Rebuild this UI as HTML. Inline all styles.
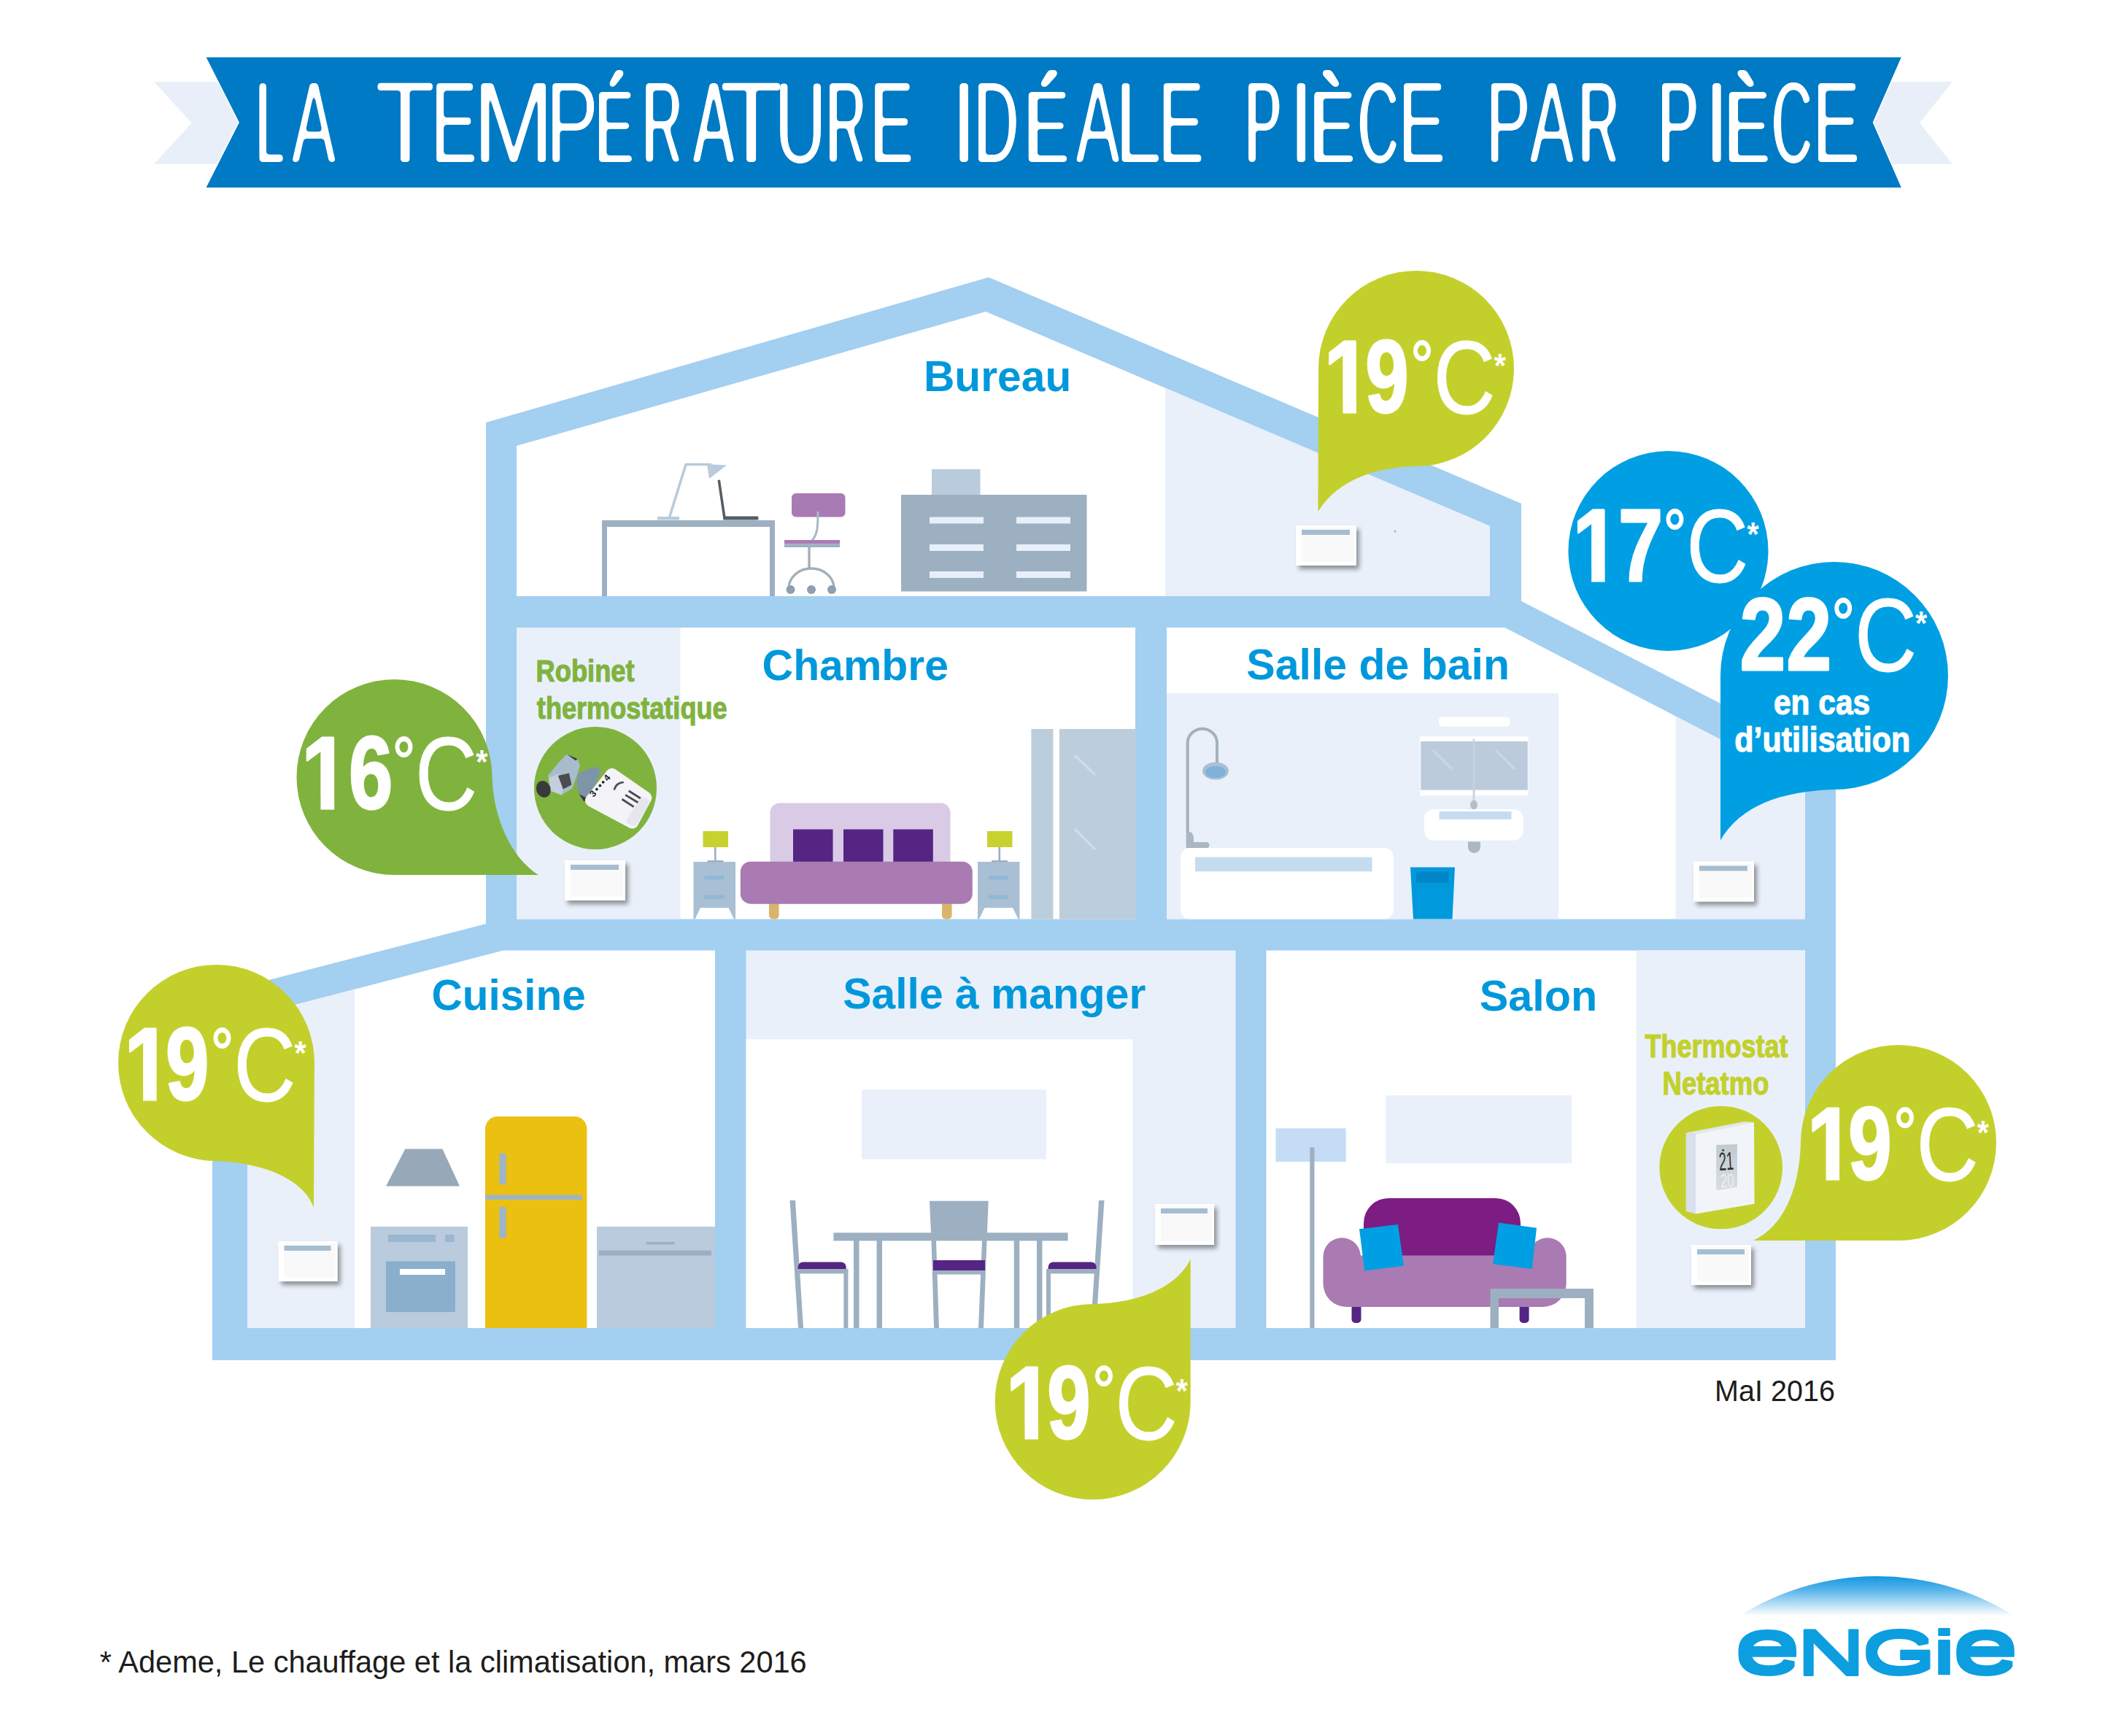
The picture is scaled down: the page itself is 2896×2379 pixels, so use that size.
<!DOCTYPE html>
<html lang="fr"><head><meta charset="utf-8"><title>LA TEMPÉRATURE IDÉALE PIÈCE PAR PIÈCE</title>
<style>html,body{margin:0;padding:0;background:#fff}svg{display:block}text{font-family:"Liberation Sans",Arial,Helvetica,sans-serif}</style>
</head><body>
<svg width="2896" height="2379" viewBox="0 0 2896 2379">
<defs>
<filter id="sh" x="-20%" y="-20%" width="150%" height="160%"><feGaussianBlur in="SourceAlpha" stdDeviation="3.4"/><feOffset dx="3.5" dy="5"/><feComponentTransfer><feFuncA type="linear" slope="0.4"/></feComponentTransfer><feMerge><feMergeNode/><feMergeNode in="SourceGraphic"/></feMerge></filter>
<filter id="er1" x="-15%" y="-10%" width="130%" height="120%"><feMorphology operator="erode" radius="0 1"/><feGaussianBlur stdDeviation="2.2"/><feComponentTransfer><feFuncA type="linear" slope="7" intercept="-3"/></feComponentTransfer></filter>
<filter id="er2" x="-15%" y="-10%" width="130%" height="120%"><feMorphology operator="erode" radius="0 2"/><feGaussianBlur stdDeviation="2.2"/><feComponentTransfer><feFuncA type="linear" slope="7" intercept="-3"/></feComponentTransfer></filter>
<filter id="er3" x="-15%" y="-10%" width="130%" height="120%"><feMorphology operator="erode" radius="0 3"/><feGaussianBlur stdDeviation="2.2"/><feComponentTransfer><feFuncA type="linear" slope="7" intercept="-3"/></feComponentTransfer></filter>
<filter id="er4" x="-15%" y="-10%" width="130%" height="120%"><feMorphology operator="erode" radius="0 4"/><feGaussianBlur stdDeviation="2.2"/><feComponentTransfer><feFuncA type="linear" slope="7" intercept="-3"/></feComponentTransfer></filter>
<filter id="er5" x="-15%" y="-10%" width="130%" height="120%"><feMorphology operator="erode" radius="0 5"/><feGaussianBlur stdDeviation="2.2"/><feComponentTransfer><feFuncA type="linear" slope="7" intercept="-3"/></feComponentTransfer></filter>
<filter id="erA" x="-15%" y="-10%" width="130%" height="120%"><feMorphology in="SourceGraphic" operator="erode" radius="0 4" result="e"/><feOffset in="SourceGraphic" dx="0" dy="0" x="0" y="70" width="2896" height="51" result="acc"/><feMerge><feMergeNode in="e"/><feMergeNode in="acc"/></feMerge><feGaussianBlur stdDeviation="2.2"/><feComponentTransfer><feFuncA type="linear" slope="7" intercept="-3"/></feComponentTransfer></filter>
<filter id="dl3" x="-10%" y="-20%" width="120%" height="140%"><feMorphology operator="dilate" radius="0 3"/></filter>
<filter id="dl1" x="-10%" y="-20%" width="120%" height="140%"><feMorphology operator="dilate" radius="0 1"/></filter>
<linearGradient id="lcd" x1="0" y1="0" x2="0" y2="1"><stop offset="0" stop-color="#c2cad1"/><stop offset="1" stop-color="#d8dde2"/></linearGradient>
<linearGradient id="eg" x1="0" y1="0" x2="0" y2="1"><stop offset="0" stop-color="#1397e0"/><stop offset="0.35" stop-color="#58b4ea"/><stop offset="1" stop-color="#ffffff"/></linearGradient>
</defs>
<rect width="2896" height="2379" fill="#fff"/>

<g id="banner" role="img" aria-label="LA TEMPÉRATURE IDÉALE PIÈCE PAR PIÈCE">
<polygon points="211,112 2676,112 2631,168.5 2676,225 211,225 262.5,168.5" fill="#e9eff8"/>
<polygon points="281.3,77.6 2607,77.6 2567.6,167.7 2607,257.8 281.3,257.8 327,167.7" fill="#007ac4" stroke="#fff" stroke-width="1.6"/>
<g><g filter="url(#er5)"><text transform="translate(351.66,223.4) scale(0.4135,1)" font-size="159" fill="#fff" stroke="#fff" stroke-width="8" stroke-linejoin="round">L</text></g><g filter="url(#er2)"><text transform="translate(399.99,223.4) scale(0.5678,1)" font-size="159" fill="#fff" stroke="#fff" stroke-width="2" stroke-linejoin="round">A</text></g></g>
<g><g filter="url(#er1)"><text transform="translate(514.60,223.4) scale(0.8398,1)" font-size="159" fill="#fff">T</text></g><g filter="url(#er2)"><text transform="translate(591.34,223.4) scale(0.5863,1)" font-size="159" fill="#fff" stroke="#fff" stroke-width="2" stroke-linejoin="round">E</text></g><g filter="url(#er1)"><text transform="translate(648.52,223.4) scale(0.8339,1)" font-size="159" fill="#fff">M</text></g><g filter="url(#er1)"><text transform="translate(748.61,223.4) scale(0.6736,1)" font-size="159" fill="#fff">P</text></g><g filter="url(#erA)"><text transform="translate(816.30,223.4) scale(0.5389,1)" font-size="143" fill="#fff" stroke="#fff" stroke-width="6" stroke-linejoin="round">É</text></g><g filter="url(#er4)"><text transform="translate(880.43,223.4) scale(0.4751,1)" font-size="159" fill="#fff" stroke="#fff" stroke-width="6" stroke-linejoin="round">R</text></g><g filter="url(#er3)"><text transform="translate(949.70,223.4) scale(0.5328,1)" font-size="159" fill="#fff" stroke="#fff" stroke-width="4" stroke-linejoin="round">A</text></g><g filter="url(#er1)"><text transform="translate(986.74,223.4) scale(0.8843,1)" font-size="159" fill="#fff">T</text></g><g filter="url(#er2)"><text transform="translate(1062.61,223.4) scale(0.6024,1)" font-size="159" fill="#fff" stroke="#fff" stroke-width="2" stroke-linejoin="round">U</text></g><g filter="url(#er4)"><text transform="translate(1132.23,223.4) scale(0.4751,1)" font-size="159" fill="#fff" stroke="#fff" stroke-width="6" stroke-linejoin="round">R</text></g><g filter="url(#er3)"><text transform="translate(1193.19,223.4) scale(0.5445,1)" font-size="159" fill="#fff" stroke="#fff" stroke-width="4" stroke-linejoin="round">E</text></g></g>
<g><g filter="url(#er1)"><text transform="translate(1304.02,223.4) scale(0.7755,1)" font-size="159" fill="#fff">I</text></g><g filter="url(#er3)"><text transform="translate(1335.18,223.4) scale(0.5266,1)" font-size="159" fill="#fff" stroke="#fff" stroke-width="4" stroke-linejoin="round">D</text></g><g filter="url(#erA)"><text transform="translate(1404.21,223.4) scale(0.6287,1)" font-size="143" fill="#fff" stroke="#fff" stroke-width="6" stroke-linejoin="round">É</text></g><g filter="url(#er2)"><text transform="translate(1474.49,223.4) scale(0.5669,1)" font-size="159" fill="#fff" stroke="#fff" stroke-width="2" stroke-linejoin="round">A</text></g><g filter="url(#er1)"><text transform="translate(1528.34,223.4) scale(0.7175,1)" font-size="159" fill="#fff">L</text></g><g filter="url(#er2)"><text transform="translate(1587.65,223.4) scale(0.5852,1)" font-size="159" fill="#fff" stroke="#fff" stroke-width="2" stroke-linejoin="round">E</text></g></g>
<g><g filter="url(#er4)"><text transform="translate(1706.60,223.4) scale(0.4679,1)" font-size="159" fill="#fff" stroke="#fff" stroke-width="6" stroke-linejoin="round">P</text></g><g filter="url(#er1)"><text transform="translate(1766.37,223.4) scale(0.7755,1)" font-size="159" fill="#fff">I</text></g><g filter="url(#erA)"><text transform="translate(1795.86,223.4) scale(0.6347,1)" font-size="143" fill="#fff" stroke="#fff" stroke-width="6" stroke-linejoin="round">È</text></g><g filter="url(#er4)"><text transform="translate(1861.24,223.4) scale(0.4846,1)" font-size="159" fill="#fff" stroke="#fff" stroke-width="6" stroke-linejoin="round">C</text></g><g filter="url(#er2)"><text transform="translate(1916.85,223.4) scale(0.6022,1)" font-size="159" fill="#fff" stroke="#fff" stroke-width="2" stroke-linejoin="round">E</text></g></g>
<g><g filter="url(#er2)"><text transform="translate(2037.06,223.4) scale(0.5680,1)" font-size="159" fill="#fff" stroke="#fff" stroke-width="2" stroke-linejoin="round">P</text></g><g filter="url(#er2)"><text transform="translate(2096.69,223.4) scale(0.5697,1)" font-size="159" fill="#fff" stroke="#fff" stroke-width="2" stroke-linejoin="round">A</text></g><g filter="url(#er4)"><text transform="translate(2163.87,223.4) scale(0.4810,1)" font-size="159" fill="#fff" stroke="#fff" stroke-width="6" stroke-linejoin="round">R</text></g></g>
<g><g filter="url(#er3)"><text transform="translate(2272.28,223.4) scale(0.5269,1)" font-size="159" fill="#fff" stroke="#fff" stroke-width="4" stroke-linejoin="round">P</text></g><g filter="url(#er1)"><text transform="translate(2335.82,223.4) scale(0.7755,1)" font-size="159" fill="#fff">I</text></g><g filter="url(#erA)"><text transform="translate(2364.35,223.4) scale(0.6359,1)" font-size="143" fill="#fff" stroke="#fff" stroke-width="6" stroke-linejoin="round">È</text></g><g filter="url(#er4)"><text transform="translate(2428.55,223.4) scale(0.4827,1)" font-size="159" fill="#fff" stroke="#fff" stroke-width="6" stroke-linejoin="round">C</text></g><g filter="url(#er2)"><text transform="translate(2484.85,223.4) scale(0.6022,1)" font-size="159" fill="#fff" stroke="#fff" stroke-width="2" stroke-linejoin="round">E</text></g></g>
</g>
<g id="house">
<polygon fill="#a3cff1" points="1355,380 2085,690 2085,823.7 2516,1045 2516,1864 291,1864 291,1363 666,1266 666,579"/>
<polygon fill="#fff" points="708,611 1351,427 2042,721 2042,817 708,817"/>
<rect fill="#fff" x="708" y="860" width="848" height="399.5"/>
<polygon fill="#fff" points="1599,860 2062.5,860 2474,1073.5 2474,1259.5 1599,1259.5"/>
<polygon fill="#fff" points="339,1394 689.4,1302.6 980,1302.6 980,1820 339,1820"/>
<rect fill="#e9f0fa" x="1022.5" y="1302.5" width="671" height="517.5"/>
<rect fill="#fff" x="1735.5" y="1302.5" width="738.5" height="517.5"/>
<polygon fill="#e9f0fa" points="1597,531.7 2042,721 2042,817 1597,817"/>
<rect fill="#e9f0fa" x="708" y="860" width="224.6" height="399.5"/>
<rect fill="#e9f0fa" x="1599" y="950" width="537" height="309.5"/>
<polygon fill="#e9f0fa" points="2296.5,981.5 2474,1073.5 2474,1259.5 2296.5,1259.5"/>
<polygon fill="#e9f0fa" points="339,1394 486,1355.7 486,1820 339,1820"/>
<rect fill="#fff" x="1022.5" y="1424.3" width="529.7" height="395.7"/>
<rect fill="#e9f0fa" x="2242.5" y="1302.5" width="231.5" height="517.5"/>
</g>
<g id="bureau">
<path fill="#9db0c1" d="M825,713 H1062 V817 H1055 V722 H832 V817 H825 Z"/>
<rect x="901" y="708" width="30" height="4.5" fill="#b9cbdc"/>
<polyline points="917.5,709 940,636.5 975,636.5" fill="none" stroke="#b9cbdc" stroke-width="3.6" stroke-linejoin="round"/>
<polygon points="969,636 996,637.5 972,656" fill="#b9cbdc"/>
<polygon points="983.5,658 987,657.5 994.5,708 991,709" fill="#555c66"/>
<rect x="991" y="707.5" width="48.5" height="5" rx="1.5" fill="#555c66"/>
<rect x="1085" y="676" width="73.5" height="32.5" rx="6" fill="#a97bb5"/>
<path d="M1121,701 C1121,722 1121,734 1110,744" fill="none" stroke="#a9b9c6" stroke-width="3"/>
<rect x="1075" y="740" width="76" height="5.5" fill="#a97bb5"/><rect x="1075" y="745.5" width="76" height="4.5" fill="#9db0c1"/>
<path d="M1109,750 V779 M1081,806 A31,27 0 0 1 1143,806" fill="none" stroke="#a3afba" stroke-width="3.4"/>
<circle cx="1083.5" cy="808" r="6" fill="#8d9fb0"/>
<circle cx="1112" cy="808" r="6" fill="#8d9fb0"/>
<circle cx="1140" cy="808" r="6" fill="#8d9fb0"/>
<rect x="1277" y="643" width="66.5" height="36" fill="#b9cbdc"/>
<rect x="1235" y="678" width="254.5" height="132.5" fill="#9db0c1"/>
<rect x="1274" y="708.5" width="74" height="9" fill="#e6effa"/>
<rect x="1274" y="746" width="74" height="9" fill="#e6effa"/>
<rect x="1274" y="783" width="74" height="9" fill="#e6effa"/>
<rect x="1393" y="708.5" width="74" height="9" fill="#e6effa"/>
<rect x="1393" y="746" width="74" height="9" fill="#e6effa"/>
<rect x="1393" y="783" width="74" height="9" fill="#e6effa"/>
<g filter="url(#sh)"><rect x="1776" y="720" width="83" height="55" fill="#fff"/><rect x="1784" y="723" width="72" height="47" fill="#f9f9f9"/><rect x="1784" y="726" width="66" height="7" fill="#a6bdd0"/></g>
<circle cx="1912" cy="728" r="1.6" fill="#aab4c2"/>
<text transform="translate(1265.97,536.4) scale(0.9786,1)" font-size="60" font-weight="bold" fill="#0098db">Bureau</text>
</g>
<g id="chambre">
<text transform="translate(734.58,933.6) scale(0.8433,1)" font-size="43" font-weight="bold" fill="#80b33e" stroke="#80b33e" stroke-width="1.2" stroke-linejoin="round">Robinet</text>
<text transform="translate(735.86,984.5) scale(0.8396,1)" font-size="43" font-weight="bold" fill="#80b33e" stroke="#80b33e" stroke-width="1.2" stroke-linejoin="round">thermostatique</text>
<text transform="translate(1044.58,932) scale(0.9822,1)" font-size="60" font-weight="bold" fill="#0098db">Chambre</text>
<circle cx="816" cy="1080" r="84" fill="#80b33e"/>
<g id="valve">
<polygon points="751.1,1062.9 766.1,1044.5 776.4,1034.1 791.4,1039.9 794.9,1049.1 791.4,1060.6 784.5,1080.2 769.5,1089.4 754.6,1083.7" fill="#a9bccb"/>
<polygon points="752,1066 766,1060 772,1082 769.5,1089.4 754.6,1083.7" fill="#c3d0dc"/>
<polygon points="764.9,1062.9 779.9,1059.5 783.4,1075.6 771.8,1081.4" fill="#4a4c52"/>
<polygon points="777.6,1034.1 791.4,1039.9 789.1,1042.2 782.2,1037.6" fill="#35383c"/>
<ellipse cx="744.8" cy="1081.4" rx="9.8" ry="11.5" fill="#3a3a3c" transform="rotate(-20 744.8 1081.4)"/>
<polygon points="793.7,1088.3 800,1098 808,1096 799,1083" fill="#3c3c46"/>
<polygon points="791.4,1060.6 815.6,1050.3 823.7,1056 807.6,1095.2 793.7,1088.3 790.5,1075" fill="#7d95a9"/>
<polygon points="838.6,1061.3 884.9,1093.2 866.6,1127 810.4,1097" fill="#f3f3f8" stroke="#f3f3f8" stroke-width="17" stroke-linejoin="round"/>
<polygon points="880,1097 886,1099 869,1127 863,1125" fill="#e6e6ee" stroke="#e6e6ee" stroke-width="9" stroke-linejoin="round"/>
<path d="M842.1,1081.4 Q845,1073 853.6,1072.2" stroke="#50505a" stroke-width="2.8" fill="none" stroke-linecap="round"/>
<path d="M861.7,1083.7 L877.8,1094 M857.1,1089.4 L874.4,1099.8 M852.5,1095.2 L868.6,1105.6" stroke="#4a4a55" stroke-width="2.8" fill="none"/>
<text transform="translate(813.5,1093) rotate(-48.8)" font-size="12.5" font-weight="bold" fill="#1c1c20" textLength="36" lengthAdjust="spacing">3•••4</text>
</g>
<g filter="url(#sh)"><rect x="774" y="1179" width="83" height="55" fill="#fff"/><rect x="782" y="1182" width="72" height="47" fill="#f9f9f9"/><rect x="782" y="1185" width="66" height="7" fill="#a6bdd0"/></g>
<path fill="#a9bfd3" d="M950.5,1181 H1008.0 V1259.5 H1006.0 L998.5,1244 H960.0 L952.5,1259.5 H950.5 Z"/>
<rect x="965.5" y="1200" width="27" height="5.5" fill="#8fb8d6"/><rect x="965.5" y="1226.5" width="27" height="5.5" fill="#8fb8d6"/>
<rect x="963.5" y="1139" width="34.5" height="22" fill="#c8d22e"/>
<rect x="979.0" y="1161" width="2.6" height="19" fill="#9db0c1"/><rect x="969.5" y="1179" width="22" height="2.5" rx="1" fill="#9db0c1"/>
<path fill="#a9bfd3" d="M1340,1181 H1397.5 V1259.5 H1395.5 L1388,1244 H1349.5 L1342,1259.5 H1340 Z"/>
<rect x="1355" y="1200" width="27" height="5.5" fill="#8fb8d6"/><rect x="1355" y="1226.5" width="27" height="5.5" fill="#8fb8d6"/>
<rect x="1353" y="1139" width="34.5" height="22" fill="#c8d22e"/>
<rect x="1368.5" y="1161" width="2.6" height="19" fill="#9db0c1"/><rect x="1359" y="1179" width="22" height="2.5" rx="1" fill="#9db0c1"/>
<rect x="1055.5" y="1100.5" width="247" height="100" rx="13" fill="#d9cae6"/>
<rect x="1087" y="1136.5" width="54.5" height="46" fill="#552583"/>
<rect x="1156" y="1136.5" width="54.5" height="46" fill="#552583"/>
<rect x="1224.3" y="1136.5" width="54.5" height="46" fill="#552583"/>
<rect x="1054" y="1230" width="13.6" height="29.5" rx="5" fill="#d9b56b"/><rect x="1291" y="1230" width="13.6" height="29.5" rx="5" fill="#d9b56b"/>
<rect x="1014.8" y="1180.7" width="318" height="58" rx="14" fill="#a97bb2"/>
<rect x="1413.4" y="999" width="30" height="260.5" fill="#bccddb"/><rect x="1452" y="999" width="104.5" height="260.5" fill="#bccddb"/>
<path d="M1473,1035 L1501,1062 M1473,1136 L1501,1164" stroke="#cfdcea" stroke-width="3.5"/>
</g>
<g id="sdb">
<text transform="translate(1708.30,931.3) scale(0.9838,1)" font-size="60" font-weight="bold" fill="#0098db">Salle de bain</text>
<path d="M1627.7,1162 V1017 A20.2,19.5 0 0 1 1668,1017 V1046" fill="none" stroke="#a3b1bd" stroke-width="4"/>
<ellipse cx="1666" cy="1056.5" rx="18" ry="12" fill="#a9bfd3"/><ellipse cx="1666" cy="1058" rx="14" ry="8" fill="#7fb0d8"/>
<path d="M1626,1142 q8,-6 10,6 v6 h18 q6,2 2,8 h-8 v14 h-5 v-14 h-17 z" fill="#a9b7c3"/>
<rect x="1618" y="1162" width="292" height="97.5" rx="13" fill="#fff"/><rect x="1638" y="1174.6" width="242.5" height="19.7" fill="#c5dcf0"/>
<polygon points="1933,1188.5 1994,1188.5 1990.5,1259.5 1937,1259.5" fill="#0099dc"/><rect x="1941" y="1194.3" width="44.4" height="15.4" fill="#0086c6"/>
<rect x="1971.8" y="982.4" width="97.8" height="13.3" rx="5" fill="#fff"/>
<rect x="1946.3" y="1009.3" width="148.2" height="81" fill="#fff"/><rect x="1947.3" y="1016" width="146.5" height="66.6" fill="#bccbdb"/>
<path d="M1964,1028 L1990,1054 M2050,1028 L2076,1054" stroke="#cad6e4" stroke-width="3.5"/>
<rect x="2018.6" y="1012.7" width="2.8" height="85" fill="#c5d2e0"/><ellipse cx="2020" cy="1103" rx="5" ry="6.5" fill="#b4bfca"/>
<rect x="1952" y="1109" width="135.6" height="42.7" rx="13" fill="#fff"/><rect x="1972.5" y="1112" width="99" height="10.8" fill="#c5dcf0"/>
<path d="M2012,1153.4 h17 v7 a8.5,8.5 0 0 1 -17,0 z" fill="#a9b7c3"/>
<g filter="url(#sh)"><rect x="2321" y="1180.5" width="83" height="55" fill="#fff"/><rect x="2329" y="1183.5" width="72" height="47" fill="#f9f9f9"/><rect x="2329" y="1186.5" width="66" height="7" fill="#a6bdd0"/></g>
</g>
<g id="cuisine">
<text transform="translate(591.40,1383.6) scale(0.9755,1)" font-size="60" font-weight="bold" fill="#0098db">Cuisine</text>
<g filter="url(#sh)"><rect x="381.5" y="1701" width="81" height="55" fill="#fff"/><rect x="389.5" y="1704" width="70" height="47" fill="#f9f9f9"/><rect x="389.5" y="1707" width="64" height="7" fill="#a6bdd0"/></g>
<rect x="508" y="1681" width="133" height="139" fill="#b9cbdc"/><rect x="532" y="1692" width="65" height="10" fill="#9bb7cf"/><rect x="610" y="1692" width="12.6" height="10" fill="#9bb7cf"/>
<rect x="529" y="1728.5" width="95" height="69.5" fill="#8aafcd"/><rect x="548" y="1739" width="62" height="8" fill="#fff"/>
<polygon points="555.3,1574.4 606.4,1574.4 630,1625.5 529,1625.5" fill="#97a9b9"/>
<path d="M665,1820 V1547 a17,17 0 0 1 17,-17 h105.4 a17,17 0 0 1 17,17 V1820 Z" fill="#ecc011"/>
<rect x="665" y="1637.5" width="133" height="6.5" fill="#9eb4c8"/><rect x="684.3" y="1580.7" width="9.4" height="42.6" fill="#9eb4c8"/><rect x="684.3" y="1654" width="9.4" height="42.6" fill="#9eb4c8"/>
<rect x="818" y="1681" width="162" height="139" fill="#b9cbdc"/><rect x="820.6" y="1713.6" width="154.4" height="7" fill="#9db0c2"/><rect x="885.4" y="1702" width="39" height="3.5" fill="#9db0c2"/>
</g>
<g id="sam">
<text transform="translate(1155.31,1382.2) scale(0.9800,1)" font-size="60" font-weight="bold" fill="#0098db">Salle à manger</text>
<rect x="1181" y="1493.3" width="253" height="95.2" fill="#e9f0fa"/>
<rect x="1142.4" y="1689.3" width="321.2" height="11.1" fill="#9db0c1"/>
<rect x="1170" y="1700" width="7.5" height="120" fill="#9db0c1"/>
<rect x="1201.5" y="1700" width="7.5" height="120" fill="#9db0c1"/>
<rect x="1389.7" y="1700" width="7.5" height="120" fill="#9db0c1"/>
<rect x="1421" y="1700" width="7.5" height="120" fill="#9db0c1"/>
<polygon points="1274,1645.7 1354.7,1645.7 1352.5,1700 1276.5,1700" fill="#9db0c1"/>
<polygon points="1276.5,1700 1283,1700 1287,1820 1280,1820" fill="#9db0c1"/><polygon points="1346,1700 1352.5,1700 1348,1820 1341,1820" fill="#9db0c1"/>
<rect x="1279" y="1727" width="71" height="14" fill="#552583"/><rect x="1279" y="1741" width="71" height="5.5" fill="#9db0c1"/>
<polygon points="1082.5,1645 1090,1645 1101,1820 1094,1820" fill="#9db0c1"/>
<path d="M1093.7,1739 v-3 a7,7 0 0 1 7,-6.5 h52 a7,7 0 0 1 7,6.5 v3 z" fill="#552583"/><rect x="1091.5" y="1739" width="71" height="6.4" fill="#9db0c1"/><rect x="1156.4" y="1745" width="6" height="75" fill="#9db0c1"/>
<polygon points="1506,1645 1513.5,1645 1502,1820 1495,1820" fill="#9db0c1"/>
<path d="M1436.6,1739 v-3 a7,7 0 0 1 7,-6.5 h52 a7,7 0 0 1 7,6.5 v3 z" fill="#552583"/><rect x="1434" y="1739" width="71" height="6.4" fill="#9db0c1"/><rect x="1434" y="1745" width="6" height="75" fill="#9db0c1"/>
<g filter="url(#sh)"><rect x="1583" y="1650" width="81" height="56" fill="#fff"/><rect x="1591" y="1653" width="70" height="48" fill="#f9f9f9"/><rect x="1591" y="1656" width="64" height="7" fill="#a6bdd0"/></g>
</g>
<g id="salon">
<text transform="translate(2027.79,1385) scale(0.9892,1)" font-size="60" font-weight="bold" fill="#0098db">Salon</text>
<rect x="1899.4" y="1501" width="254.6" height="93.2" fill="#e9f0fa"/>
<rect x="1748.4" y="1546.3" width="96.3" height="45.8" fill="#c5dcf5"/>
<rect x="1795.3" y="1572.4" width="6.2" height="247.6" fill="#9db0c1"/>
<path d="M1869,1725 V1676 a34,34 0 0 1 34,-34 h147 a34,34 0 0 1 34,34 V1725 Z" fill="#7d1c82"/>
<rect x="1852.5" y="1780" width="13" height="33" rx="5" fill="#552583"/><rect x="2082.6" y="1780" width="13" height="33" rx="5" fill="#552583"/>
<path d="M1813.5,1722 a25.7,25.7 0 0 1 51.4,0 V1720.5 H2095.3 V1722 a25.7,25.7 0 0 1 51.4,0 V1759 a32,32 0 0 1 -32,32 H1845.5 a32,32 0 0 1 -32,-32 Z" fill="#a97bb2"/>
<polygon points="1863,1684.3 1916,1678 1923.9,1734.8 1870.2,1741.5" fill="#009fe3"/><polygon points="2054,1675.4 2106,1682.7 2099.8,1739 2046.2,1732.2" fill="#009fe3"/>
<path d="M2042.5,1766 H2184 V1820 H2172 V1779 H2054 V1820 H2042.5 Z" fill="#9db0c1"/>
<text transform="translate(2254.49,1449) scale(0.8281,1)" font-size="43.5" font-weight="bold" fill="#c3d02c" stroke="#c3d02c" stroke-width="1.2" stroke-linejoin="round">Thermostat</text>
<text transform="translate(2278.56,1499.5) scale(0.8387,1)" font-size="43.5" font-weight="bold" fill="#c3d02c" stroke="#c3d02c" stroke-width="1.2" stroke-linejoin="round">Netatmo</text>
<circle cx="2358.7" cy="1600" r="84.3" fill="#c3d02c"/>
<polygon points="2310.7,1552.4 2324,1554 2324,1663.6 2310.7,1660" fill="#d9dfeb"/>
<polygon points="2310.7,1552.4 2391,1537 2404,1538 2324,1554" fill="#e3e7f1"/>
<polygon points="2324,1554 2404,1538 2404.6,1649.8 2324,1663.6" fill="#f1f5fa"/>
<polygon points="2352.2,1569.1 2381,1568 2381,1626.7 2352.2,1631.3" fill="url(#lcd)"/>
<text transform="translate(2356.4,1603.9) rotate(-3) scale(0.52,1)" font-size="35" fill="#2f3236">21</text>
<text transform="translate(2358.6,1627.3) rotate(-3) scale(0.64,1)" font-size="26" fill="#eceff2">20</text>
<circle cx="2361.6" cy="1576.3" r="1.5" fill="#3a3d42"/>
<g filter="url(#sh)"><rect x="2318" y="1706" width="82" height="55" fill="#fff"/><rect x="2326" y="1709" width="71" height="47" fill="#f9f9f9"/><rect x="2326" y="1712" width="65" height="7" fill="#a6bdd0"/></g>
</g>
<g id="bubbles">
<path fill="#c3d02c" d="M1807,505 A134,134 0 1 1 1941,639 C1890,640 1835,655 1806.5,701 Z"/>
<g><g transform="translate(1814.59,564.9) scale(0.8243,1)"><text font-size="141.0" font-weight="bold" fill="#fff" stroke="#fff" stroke-width="3" stroke-linejoin="round">1</text><rect x="4.9" y="-16.7" width="26.5" height="19.9" fill="#c3d02c"/><rect x="53.8" y="-16.7" width="24.7" height="19.9" fill="#c3d02c"/></g><text transform="translate(1871.23,564.9) scale(0.7574,1)" font-size="141.0" font-weight="bold" fill="#fff" stroke="#fff" stroke-width="3" stroke-linejoin="round">9</text><text transform="translate(1933.66,531.50) scale(0.8066,1)" font-size="94.3" font-weight="bold" fill="#fff">°</text><text transform="translate(1964.49,566.94) scale(0.8296,1)" font-size="142.1" fill="#fff" stroke="#fff" stroke-width="0.9" stroke-linejoin="round">C</text><text transform="translate(2047.68,516.83) scale(0.9090,1)" font-size="45.7" font-weight="bold" fill="#fff">*</text></g>
<circle cx="2286.5" cy="755" r="137" fill="#009fe3"/>
<path fill="#009fe3" d="M2358,926 A156,156 0 1 1 2514,1082 C2440,1084 2385,1105 2358,1151.5 Z"/>
<g><g transform="translate(2155.29,796.3) scale(0.8243,1)"><text font-size="141.0" font-weight="bold" fill="#fff" stroke="#fff" stroke-width="3" stroke-linejoin="round">1</text><rect x="4.9" y="-16.7" width="26.5" height="19.9" fill="#009fe3"/><rect x="53.8" y="-16.7" width="24.7" height="19.9" fill="#009fe3"/></g><text transform="translate(2218.04,796.3) scale(0.7808,1)" font-size="141.0" font-weight="bold" fill="#fff" stroke="#fff" stroke-width="3" stroke-linejoin="round">7</text><text transform="translate(2280.36,762.90) scale(0.8066,1)" font-size="94.3" font-weight="bold" fill="#fff">°</text><text transform="translate(2311.19,798.34) scale(0.8296,1)" font-size="142.1" fill="#fff" stroke="#fff" stroke-width="0.9" stroke-linejoin="round">C</text><text transform="translate(2394.38,748.23) scale(0.9090,1)" font-size="45.7" font-weight="bold" fill="#fff">*</text></g>
<g><text transform="translate(2384.49,918.4) scale(0.8013,1)" font-size="141.0" font-weight="bold" fill="#fff" stroke="#fff" stroke-width="3" stroke-linejoin="round">2</text><text transform="translate(2448.32,918.4) scale(0.7900,1)" font-size="141.0" font-weight="bold" fill="#fff" stroke="#fff" stroke-width="3" stroke-linejoin="round">2</text><text transform="translate(2511.06,885.00) scale(0.8066,1)" font-size="94.3" font-weight="bold" fill="#fff">°</text><text transform="translate(2541.89,920.44) scale(0.8296,1)" font-size="142.1" fill="#fff" stroke="#fff" stroke-width="0.9" stroke-linejoin="round">C</text><text transform="translate(2625.08,870.33) scale(0.9090,1)" font-size="45.7" font-weight="bold" fill="#fff">*</text></g>
<text transform="translate(2430.97,979.4) scale(0.8759,1)" font-size="48.5" font-weight="bold" fill="#fff" stroke="#fff" stroke-width="1.2" stroke-linejoin="round">en cas</text>
<text transform="translate(2377.37,1030.4) scale(0.8851,1)" font-size="48.5" font-weight="bold" fill="#fff" stroke="#fff" stroke-width="1.2" stroke-linejoin="round">d’utilisation</text>
<path fill="#80b33e" d="M540.5,1199 A134,134 0 1 1 674.5,1065 C676,1120 700,1175 738,1199 Z"/>
<g><g transform="translate(413.07,1108.0) scale(0.8396,1)"><text font-size="141.0" font-weight="bold" fill="#fff" stroke="#fff" stroke-width="3" stroke-linejoin="round">1</text><rect x="4.9" y="-16.7" width="26.5" height="19.9" fill="#80b33e"/><rect x="53.8" y="-16.7" width="24.7" height="19.9" fill="#80b33e"/></g><text transform="translate(478.08,1108.0) scale(0.7687,1)" font-size="141.0" font-weight="bold" fill="#fff" stroke="#fff" stroke-width="3" stroke-linejoin="round">6</text><text transform="translate(538.26,1074.60) scale(0.8066,1)" font-size="94.3" font-weight="bold" fill="#fff">°</text><text transform="translate(569.09,1110.04) scale(0.8296,1)" font-size="142.1" fill="#fff" stroke="#fff" stroke-width="0.9" stroke-linejoin="round">C</text><text transform="translate(652.28,1059.93) scale(0.9090,1)" font-size="45.7" font-weight="bold" fill="#fff">*</text></g>
<path fill="#c3d02c" d="M296.5,1591 A134.5,134.5 0 1 1 431,1456.5 L430,1655 C419,1622 372,1594 296.5,1591 Z"/>
<g><g transform="translate(170.29,1507.0) scale(0.8243,1)"><text font-size="141.0" font-weight="bold" fill="#fff" stroke="#fff" stroke-width="3" stroke-linejoin="round">1</text><rect x="4.9" y="-16.7" width="26.5" height="19.9" fill="#c3d02c"/><rect x="53.8" y="-16.7" width="24.7" height="19.9" fill="#c3d02c"/></g><text transform="translate(226.93,1507.0) scale(0.7574,1)" font-size="141.0" font-weight="bold" fill="#fff" stroke="#fff" stroke-width="3" stroke-linejoin="round">9</text><text transform="translate(289.36,1473.60) scale(0.8066,1)" font-size="94.3" font-weight="bold" fill="#fff">°</text><text transform="translate(320.19,1509.04) scale(0.8296,1)" font-size="142.1" fill="#fff" stroke="#fff" stroke-width="0.9" stroke-linejoin="round">C</text><text transform="translate(403.38,1458.93) scale(0.9090,1)" font-size="45.7" font-weight="bold" fill="#fff">*</text></g>
<path fill="#c3d02c" d="M1631.7,1921 A134,134 0 1 1 1497.7,1787 C1570,1785 1615,1760 1631.7,1725.6 Z"/>
<g><g transform="translate(1378.59,1970.5) scale(0.8243,1)"><text font-size="141.0" font-weight="bold" fill="#fff" stroke="#fff" stroke-width="3" stroke-linejoin="round">1</text><rect x="4.9" y="-16.7" width="26.5" height="19.9" fill="#c3d02c"/><rect x="53.8" y="-16.7" width="24.7" height="19.9" fill="#c3d02c"/></g><text transform="translate(1435.23,1970.5) scale(0.7574,1)" font-size="141.0" font-weight="bold" fill="#fff" stroke="#fff" stroke-width="3" stroke-linejoin="round">9</text><text transform="translate(1497.66,1937.10) scale(0.8066,1)" font-size="94.3" font-weight="bold" fill="#fff">°</text><text transform="translate(1528.49,1972.54) scale(0.8296,1)" font-size="142.1" fill="#fff" stroke="#fff" stroke-width="0.9" stroke-linejoin="round">C</text><text transform="translate(1611.68,1922.43) scale(0.9090,1)" font-size="45.7" font-weight="bold" fill="#fff">*</text></g>
<path fill="#c3d02c" d="M2468,1566 A134,134 0 1 1 2602,1700 L2402.8,1700 C2445,1680 2466,1630 2468,1566 Z"/>
<g><g transform="translate(2476.69,1615.9) scale(0.8243,1)"><text font-size="141.0" font-weight="bold" fill="#fff" stroke="#fff" stroke-width="3" stroke-linejoin="round">1</text><rect x="4.9" y="-16.7" width="26.5" height="19.9" fill="#c3d02c"/><rect x="53.8" y="-16.7" width="24.7" height="19.9" fill="#c3d02c"/></g><text transform="translate(2533.33,1615.9) scale(0.7574,1)" font-size="141.0" font-weight="bold" fill="#fff" stroke="#fff" stroke-width="3" stroke-linejoin="round">9</text><text transform="translate(2595.76,1582.50) scale(0.8066,1)" font-size="94.3" font-weight="bold" fill="#fff">°</text><text transform="translate(2626.59,1617.94) scale(0.8296,1)" font-size="142.1" fill="#fff" stroke="#fff" stroke-width="0.9" stroke-linejoin="round">C</text><text transform="translate(2709.78,1567.83) scale(0.9090,1)" font-size="45.7" font-weight="bold" fill="#fff">*</text></g>
</g>
<text transform="translate(2350.06,1920) scale(0.9529,1)" font-size="41.5" fill="#1d1d1b">MaI 2016</text>
<text transform="translate(136.83,2291.6) scale(0.9940,1)" font-size="41.8" fill="#1d1d1b">* Ademe, Le chauffage et la climatisation, mars 2016</text>
<g id="engie">
<path d="M2384.6,2214 A353.2,353.2 0 0 1 2760,2214 Z" fill="url(#eg)"/>
<g aria-label="ENGIE"><g filter="url(#dl3)"><text transform="translate(2377.30,2292.2) scale(1.6100,1)" font-size="101.1" fill="#0a9ee0" stroke="#0a9ee0" stroke-width="2" stroke-linejoin="round">e</text></g><g filter="url(#dl3)"><text transform="translate(2462.86,2293.4) scale(1.5926,1)" font-size="81.4" fill="#0a9ee0" stroke="#0a9ee0" stroke-width="2" stroke-linejoin="round">N</text></g><g filter="url(#dl3)"><text transform="translate(2552.30,2292.3) scale(1.6462,1)" font-size="79.1" fill="#0a9ee0" stroke="#0a9ee0" stroke-width="2" stroke-linejoin="round">G</text></g><g filter="url(#dl1)"><text transform="translate(2648.13,2294.4) scale(1.7785,1)" font-size="82.8" fill="#0a9ee0" stroke="#0a9ee0" stroke-width="2" stroke-linejoin="round">i</text></g><g filter="url(#dl3)"><text transform="translate(2676.10,2292.2) scale(1.6100,1)" font-size="101.1" fill="#0a9ee0" stroke="#0a9ee0" stroke-width="2" stroke-linejoin="round">e</text></g></g>
</g>
</svg></body></html>
